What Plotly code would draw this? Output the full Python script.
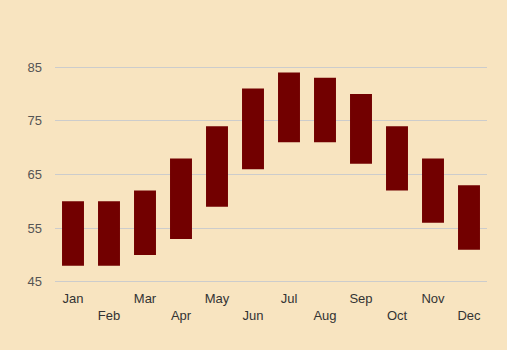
import plotly.graph_objects as go

months = ["Jan", "Feb", "Mar", "Apr", "May", "Jun", "Jul", "Aug", "Sep", "Oct", "Nov", "Dec"]
low = [48, 48, 50, 53, 59, 66, 71, 71, 67, 62, 56, 51]
high = [60, 60, 62, 68, 74, 81, 84, 83, 80, 74, 68, 63]
y_ticks = [45, 55, 65, 75, 85]

tick_text = [m if i % 2 == 0 else "<br>" + m for i, m in enumerate(months)]

fig = go.Figure(go.Bar(
    x=months,
    y=[h - l for h, l in zip(high, low)],
    base=low,
    marker=dict(color="#720000", line=dict(width=0)),
    width=0.61,
    hoverinfo="skip",
))

fig.update_layout(
    width=507, height=350,
    margin=dict(l=55, r=20, t=66, b=67),
    paper_bgcolor="#F8E4C0",
    plot_bgcolor="#F8E4C0",
    showlegend=False,
    font=dict(family="Liberation Sans, Arial, sans-serif", size=13, color="#333333"),
    xaxis=dict(
        tickmode="array", tickvals=months, ticktext=tick_text,
        showgrid=False, showline=False, zeroline=False, ticks="",
        tickfont=dict(size=13, color="#333333"),
        ticklabelstandoff=6,
    ),
    yaxis=dict(
        range=[44.8, 85.2], tickvals=y_ticks, showgrid=True, gridcolor="#CCCCCC",
        gridwidth=1, zeroline=False, showline=False, ticks="",
        tickfont=dict(size=13, color="#555555"),
        ticklabelstandoff=12,
    ),
)

fig.write_html("out.html")
